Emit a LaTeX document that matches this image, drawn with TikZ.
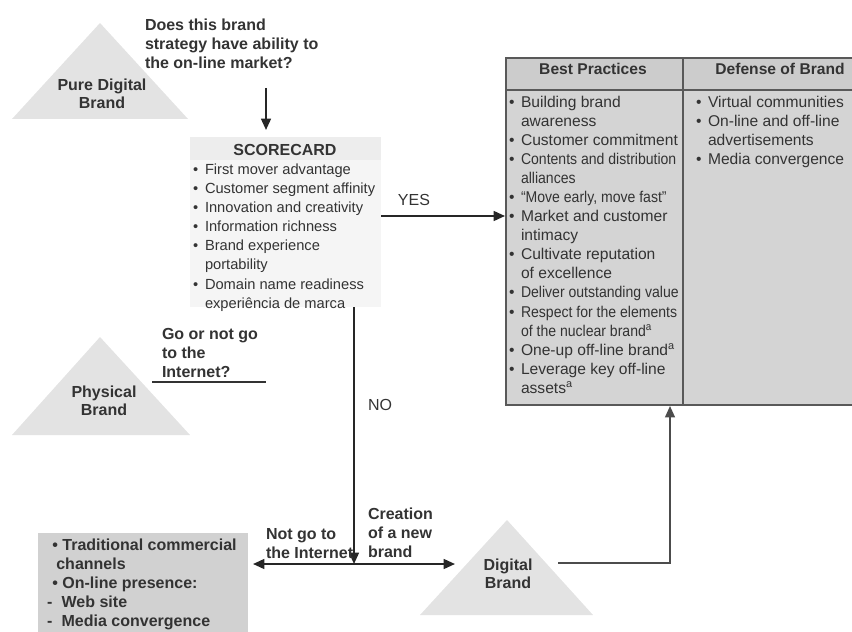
\documentclass[tikz,border=0pt]{standalone}
\usepackage{fontspec}
\setmainfont{Liberation Sans}
\newfontfamily\narrowfont{Liberation Sans}[FakeStretch=0.9]
\usetikzlibrary{arrows.meta}

\newcommand{\bul}{\makebox[9pt][l]{\textbullet}}
\newcommand{\cont}{\hspace*{9pt}}
\newcommand{\supa}{\textsuperscript{a}}

\begin{document}
\begin{tikzpicture}[x=0.75pt,y=-0.75pt,line width=1.5pt,text=black!80,
  every node/.style={inner sep=0pt},
  head/.style={font=\fontsize{12}{14.3}\selectfont\bfseries, align=left, anchor=north west},
  brand/.style={font=\fontsize{12}{13.5}\selectfont\bfseries, align=center},
  items/.style={font=\fontsize{11}{14.3}\selectfont, align=left, anchor=north west},
  cell/.style={font=\fontsize{11.7}{14.3}\selectfont, align=left, anchor=north west},
  flow/.style={draw=black!85, -{Triangle[length=3mm,width=2.6mm]}},
]
  \colorlet{tri}{black!11}
  \colorlet{cellgray}{black!17}
  \useasboundingbox (0,0) rectangle (852,631);

  % brand triangles
  \fill[tri] (12,119) -- (100,23) -- (188,119) -- cycle;
  \fill[tri] (12,435) -- (100,337) -- (190,435) -- cycle;
  \fill[tri] (420,615) -- (507,520) -- (593,615) -- cycle;
  \node[brand] (pure) at (102,94) {Pure Digital\\Brand};
  \node[brand] (physical) at (104,401) {Physical\\Brand};
  \node[brand] (digital) at (508,574) {Digital\\Brand};

  % question on top
  \node[head] (ability) at (144,18) {Does this brand\\strategy have ability to\\the on-line market?};

  % scorecard
  \fill[black!4] (190,137) rectangle (381,307);
  \fill[black!7] (190,137) rectangle (381,160);
  \node[font=\fontsize{12}{14}\selectfont\bfseries] (score) at (285,150) {SCORECARD};
  \node[items] (scorelist) at (192,163) {%
    \bul First mover advantage\\
    \bul Customer segment affinity\\
    \bul Innovation and creativity\\
    \bul Information richness\\
    \bul Brand experience\\
    \cont portability\\
    \bul Domain name readiness\\
    \cont experiência de marca};

  % table of practices
  \fill[cellgray] (506,58) rectangle (854,405);
  \fill[black!20] (506,58) rectangle (854,90);
  \draw[black!65, line width=1.2pt] (854,58) -- (506,58) -- (506,405) -- (854,405)
    (506,90) -- (854,90) (683,58) -- (683,405);
  \node[font=\fontsize{11.7}{14}\selectfont\bfseries] (best) at (593,69) {Best Practices};
  \node[font=\fontsize{11.7}{14}\selectfont\bfseries] (defense) at (780,69) {Defense of Brand};
  \node[cell] (bestlist) at (508,95) {%
    \bul Building brand\\
    \cont awareness\\
    \bul Customer commitment\\
    \bul {\narrowfont Contents and distribution}\\
    \cont {\narrowfont alliances}\\
    \bul {\narrowfont “Move early, move fast”}\\
    \bul Market and customer\\
    \cont intimacy\\
    \bul Cultivate reputation\\
    \cont of excellence\\
    \bul {\narrowfont Deliver outstanding value}\\
    \bul {\narrowfont Respect for the elements}\\
    \cont {\narrowfont of the nuclear brand\supa}\\
    \bul One-up off-line brand\supa\\
    \bul Leverage key off-line\\
    \cont assets\supa};
  \node[cell] (defenselist) at (695,95) {%
    \bul Virtual communities\\
    \bul On-line and off-line\\
    \cont advertisements\\
    \bul Media convergence};

  % decision: yes / no
  \coordinate (askend) at (266,130);
  \coordinate (yesend) at (505,216);
  \coordinate (split) at (354,564);
  \draw[flow] (266,88) -- (askend);
  \draw[flow] (381,216) -- (yesend);
  \node[font=\fontsize{12}{14}\selectfont] (yes) at (414,200) {YES};
  \draw[flow] (354,307) -- (split);
  \node[font=\fontsize{12}{14}\selectfont] (no) at (380,405) {NO};

  % physical brand question
  \node[head] (goornot) at (161,327) {Go or not go\\to the\\Internet?};
  \draw[black!80] (152,382) -- (266,382);

  % branches at the bottom
  \coordinate (tradend) at (253,564);
  \coordinate (newend) at (455,564);
  \draw[flow] (split) -- (tradend);
  \draw[flow] (split) -- (newend);
  \node[head] (notgo) at (265,527) {Not go to\\the Internet};
  \node[head] (creation) at (367,507) {Creation\\of a new\\brand};

  % traditional channels box
  \fill[black!18] (38,533) rectangle (248,633);
  \node[head] (trad) at (46,538) {%
    \hspace*{4pt}\textbullet\ Traditional commercial\\
    \hspace*{7pt}channels\\
    \hspace*{4pt}\textbullet\ On-line presence:\\
    -\hspace*{7pt}Web site\\
    -\hspace*{7pt}Media convergence};

  % digital brand feeds the table
  \coordinate (digitalout) at (558,563);
  \coordinate (tablein) at (670,406);
  \draw[flow, draw=black!70, line width=1.2pt] (digitalout) -| (tablein);
\end{tikzpicture}
\end{document}
